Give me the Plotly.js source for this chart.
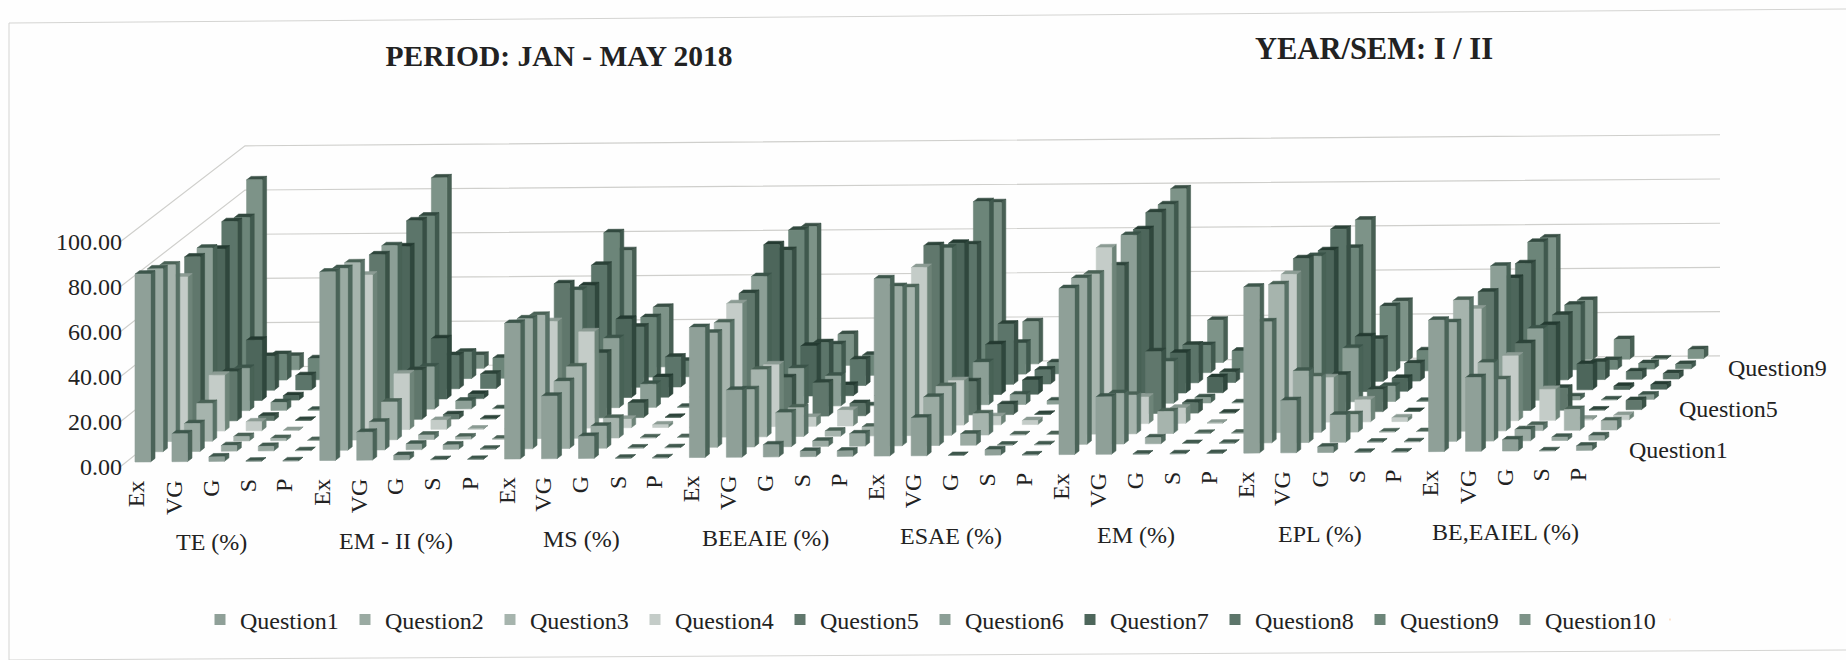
<!DOCTYPE html>
<html><head><meta charset="utf-8">
<script src="https://cdn.plot.ly/plotly-3.0.1.min.js"></script>
<style>html,body{margin:0;padding:0;background:#fefefe}</style></head>
<body><div id="chart" style="width:1846px;height:660px"></div>
<script>
const ratings = ["Ex","VG","G","S","P"];
const subjects = ["TE (%)","EM - II (%)","MS (%)","BEEAIE (%)","ESAE (%)","EM (%)","EPL (%)","BE,EAIEL (%)"];
const questions = ["Question1","Question2","Question3","Question4","Question5","Question6","Question7","Question8","Question9","Question10"];
const zero = [0,0,0,0,0,0,0,0,0,0];
const TE = [[83.5,81.3,78.5,68.6,73,72.4,67.4,75.1,72.4,84.6],[12.4,12.4,16.8,24.8,21.8,18.8,26.8,15.1,11.4,6.1],[2,2.5,2,4,2,3.5,2,6.4,9.4,5],[0,2,1,0,0,0,0,0,0,0],zero];
const EM2 = [[83.8,80.8,78.8,68.8,73.3,72.8,67.8,74.8,72.4,84.8],[12.4,12.4,16.8,24.8,21.8,18.8,26.8,14.8,11.8,5.8],[2,2.5,2,4,2,3.5,2,6.4,9,5],[0,2,1,0,0,0,0,0,0,0],zero];
const MS = [[60.3,57.8,54.8,47.5,59.8,52.3,49.8,54.4,64.3,51.8],[27.8,29.8,31.8,42.8,28.8,30.8,34.8,26.8,26.5,26.5],[9.8,9.8,8.8,3.8,6.5,10.3,8.8,13.3,7,5],[0,0,0,1.2,0,0,0,0,0,0],zero];
const BEEAIE = [[57.8,50.8,50.8,54.8,54.8,57.8,67.4,60.3,64.8,61.8],[29.8,25.5,29.8,27.5,17.2,16.8,22.2,19.2,13.8,13.8],[5.4,15.1,12.8,4,14.8,13.3,4.6,11.5,9,5],[2.4,2.4,2.3,7,5.5,0,0,0,0,0],[2.4,5.5,4,0,0,0,0,0,0,0]];
const ESAE = [[78.8,70.8,65.8,70.2,75.4,69.8,67.4,62.2,76.8,71.8],[16.8,21.5,21.8,19.8,14.8,18.8,22.2,26.8,13.8,18.8],[0,5,9.5,3.7,4.5,4.3,6.3,6.3,5,4],[2.4,0,0,1.8,0,1.5,0,0,0,0],zero];
const EM = [[73.8,73.8,71.2,78.3,65.8,74.8,72.8,75.8,74.8,77.3],[25.5,22.5,17.2,11.8,27.5,18.5,17.8,16.8,12.1,18.8],[0,2.7,9.8,6.8,4.6,2.4,6.8,4.6,9.5,4],zero,zero];
const EPL = [[73.8,53.8,65.8,65.8,68.3,64.8,62.8,67.8,54.8,62.8],[23.2,31.8,24.8,19.8,16.4,23.8,24.4,18.8,28.8,26.5],[2.5,12.1,7.8,9.8,9.8,6.8,5.8,7.8,9,4],[0,0,0,1.7,0,0,0,0,0,0],zero];
const BEEAIEL = [[58.4,52.8,58.2,49.8,52.8,59.8,49.8,51.8,56.8,54.2],[32.8,34.8,22.8,28.8,29.8,31.8,28.8,28.8,28.8,26.3],[5,5,2.4,13.8,9.8,1.5,11.4,7.8,4,8.8],[0,1.5,9.3,0.5,0,0,1.5,3.4,2.5,0],[2,2,4.1,2,4.1,2,2,2.5,2,4]];
const table = [TE,EM2,MS,BEEAIE,ESAE,EM,EPL,BEEAIEL];
const frontColors = ["#8fa098","#9aaaa2","#a6b4ad","#c4ccc8","#60776c","#8c9f96","#4d665b","#5c756a","#6c8579","#7d9388"];
const sideColors  = ["#4a6358","#4f685d","#587166","#6e8479","#3a5247","#486256","#2f473d","#384f45","#40594e","#485f54"];
const topColors   = ["#3d564b","#40594e","#4a6256","#8b9b93","#2d443a","#3b5449","#243a31","#2b4238","#32493f","#394f45"];
const tickVals = [0,20,40,60,80,100];

const PX = 36.96, PY = 2.25;           // pixels per slot / per value unit
const SX = 12.4/PX, SY = 10.1/PY;      // step back per question
const BW = 15.5/PX, DX = 4.5/PX, DY = 3.4/PY; // bar width, bar depth
const SKEW = 0.008*PX/PY, V0 = 5/PY;   // scan tilt, floor offset
const yOf = (x,v,s) => v + V0 + s*SY + x*SKEW;

function addBar(f,sd,t,c0,s,v){
  const x = c0 + s*SX, y0 = yOf(x,0,s), y1 = y0 + v, sk = BW*SKEW, dk = DX*SKEW;
  const push = (o,pts)=>{pts.forEach(p=>{o.x.push(p[0]);o.y.push(p[1]);});o.x.push(null);o.y.push(null);};
  push(f,[[x,y0],[x+BW,y0+sk],[x+BW,y1+sk],[x,y1],[x,y0]]);
  push(sd,[[x+BW,y0+sk],[x+BW+DX,y0+sk+DY+dk],[x+BW+DX,y1+sk+DY+dk],[x+BW,y1+sk],[x+BW,y0+sk]]);
  push(t,[[x,y1],[x+BW,y1+sk],[x+BW+DX,y1+sk+DY+dk],[x+DX,y1+DY+dk],[x,y1]]);
}
const traces = [];
// gridlines on the left wall and back wall
const grid = {x:[],y:[],mode:"lines",line:{color:"#cfcfcc",width:1.2},hoverinfo:"skip",showlegend:false,cliponaxis:false,type:"scatter"};
const wallX = -15/PX, backX = 110/PX, endX = (1720-135)/PX, gridSkew = 0.0075*PX/PY;
tickVals.forEach(v=>{
  const vb = v*0.983 + 100/PY;
  grid.x.push(wallX, backX, endX, null);
  grid.y.push(v, vb, vb+(endX-backX)*gridSkew, null);
});
traces.push(grid);
for(let s=questions.length-1;s>=0;s--){
  const mk = (col)=>({x:[],y:[],mode:"lines",fill:"toself",fillcolor:col,line:{color:col,width:0.6},hoverinfo:"skip",showlegend:false,legendgroup:questions[s],cliponaxis:false,type:"scatter"});
  const f = mk(frontColors[s]), sd = mk(sideColors[s]), t = mk(topColors[s]);
  table.forEach((grp,g)=>grp.forEach((row,c)=>addBar(f,sd,t,g*5+c,s,row[s])));
  f.name = questions[s];
  traces.push(sd,t,f);
}
questions.forEach((q,s)=>traces.push({x:[null],y:[null],type:"scatter",mode:"markers",name:q,legendgroup:q,marker:{symbol:"square",size:11,color:frontColors[s]}}));
// empty last legend column: keeps the fixed-width legend from clipping "Question10"
traces.push({x:[null],y:[null],type:"scatter",mode:"markers",name:"\u00a0",marker:{symbol:"square",size:1,opacity:0},hoverinfo:"skip"});

const serif = "Liberation Serif, Times New Roman, serif";
const annotations = [];
subjects.forEach((name,g)=>{
  ratings.forEach((r,c)=>{
    const x = g*5+c+0.05;
    annotations.push({xref:"x",yref:"y",x,y:yOf(x,0,0)-16/PY,text:r,textangle:-90,showarrow:false,xanchor:"center",yanchor:"top",font:{family:serif,size:24,color:"#222"}});
  });
  const xg = g*5+2.07;
  annotations.push({xref:"x",yref:"y",x:xg,y:yOf(xg,0,0)-81/PY,text:name,showarrow:false,xanchor:"center",yanchor:"middle",font:{family:serif,size:24,color:"#222"}});
});
[[0,"Question1"],[4,"Question5"],[8,"Question9"]].forEach(([s,q])=>{
  const x = 40.37 + s*SX;
  annotations.push({xref:"x",yref:"y",x,y:yOf(x,0,s),text:q,showarrow:false,xanchor:"left",yanchor:"middle",font:{family:serif,size:24,color:"#222"}});
});
annotations.push({xref:"paper",yref:"paper",xanchor:"center",yanchor:"middle",x:(1374-120)/1726,y:1-49/660,text:"<b>YEAR/SEM: I / II</b>",showarrow:false,font:{family:serif,size:30.5,color:"#222"}});

const frame = (x0,y0,x1,y1)=>({type:"line",xref:"paper",yref:"paper",x0:(x0-120)/1726,x1:(x1-120)/1726,y0:1-y0/660,y1:1-y1/660,line:{color:"#d4d4d2",width:1}});
const layout = {
  width:1846,height:660,margin:{l:120,r:0,t:0,b:0},
  paper_bgcolor:"#fefefe",plot_bgcolor:"rgba(0,0,0,0)",
  title:{text:"<b>PERIOD: JAN - MAY 2018</b>",x:559/1846,xanchor:"center",xref:"container",y:1-56/660,yanchor:"middle",yref:"container",font:{family:serif,size:29.5,color:"#222"}},
  xaxis:{range:[wallX,(1846-135)/PX],visible:false,fixedrange:true},
  yaxis:{range:[(467-660)/PY,467/PY],tickvals:tickVals,tickformat:".2f",showgrid:false,zeroline:false,showline:false,ticks:"",ticklabelstandoff:-3,fixedrange:true,tickfont:{family:serif,size:24,color:"#222"}},
  legend:{orientation:"h",xref:"paper",yref:"paper",x:(200-120)/1726,y:1-620/660,xanchor:"left",yanchor:"middle",entrywidth:100,entrywidthmode:"pixels",traceorder:"normal",bgcolor:"rgba(0,0,0,0)",font:{family:serif,size:24,color:"#222"}},
  annotations,
  shapes:[frame(9,23,1846,9),frame(9,23,9,660),frame(9,660,1846,650)]
};
Plotly.newPlot("chart",traces,layout,{displayModeBar:false});
</script></body></html>
